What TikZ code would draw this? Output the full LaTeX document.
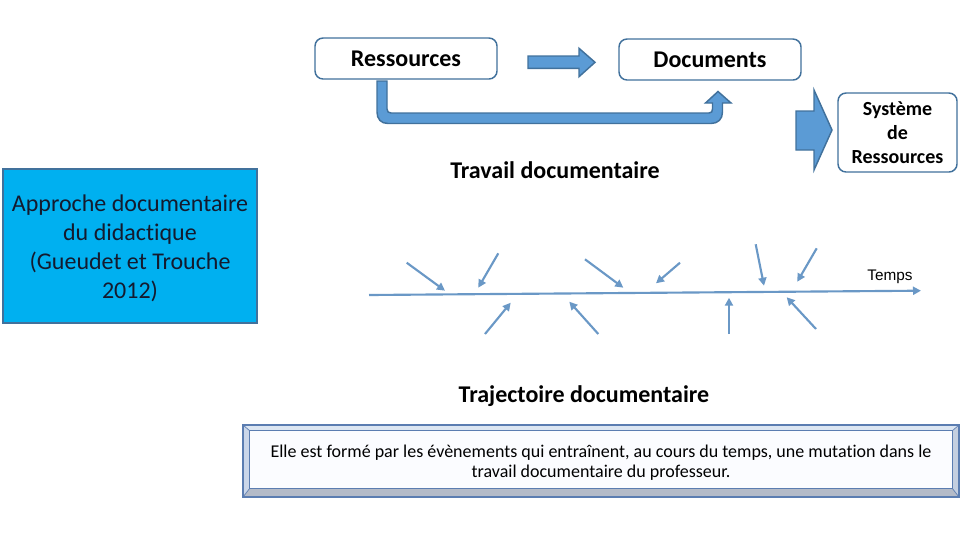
\documentclass[tikz,border=0pt]{standalone}
\usepackage{fontspec}
\setmainfont{Carlito}[Ligatures=CommonOff]
\newfontfamily\arialf{Liberation Sans}
\usetikzlibrary{arrows.meta}
\definecolor{boxline}{HTML}{41719C}
\definecolor{blockfill}{HTML}{5B9BD5}
\definecolor{cyanfill}{HTML}{00B0F0}
\definecolor{tline}{HTML}{6A98C6}
\definecolor{bevtop}{HTML}{DCE6F2}
\definecolor{bevleft}{HTML}{CAD6E9}
\definecolor{bevright}{HTML}{C4CFE0}
\definecolor{bevbot}{HTML}{B4BBC8}
\definecolor{bevface}{HTML}{FBFCFF}
\definecolor{bevline}{HTML}{5B7DB1}
\definecolor{navytext}{HTML}{141A2E}
\tikzset{
  rbox/.style={draw=boxline, line width=1.1pt, rounded corners=6pt, fill=white, inner sep=0pt},
  blockarrow/.style={draw=boxline, line width=1.1pt, fill=blockfill, line join=miter},
  evarrow/.style={draw=tline, line width=1.6pt, -{Triangle[length=6pt,width=6pt]}},
  title/.style={font=\fontsize{18}{22}\selectfont\bfseries, inner sep=0pt}
}
\begin{document}
\begin{tikzpicture}[x=0.75pt,y=-0.75pt]
\useasboundingbox (0,0) rectangle (960,540);
% top boxes
\node[rbox, minimum width=136.5pt, minimum height=30.75pt, font=\fontsize{18}{22}\selectfont\bfseries] (res) at (406,58.5) {Ressources};
\node[rbox, minimum width=136.5pt, minimum height=30.75pt, font=\fontsize{18}{22}\selectfont\bfseries] (doc) at (710,59.5) {Documents};
\node[rbox, minimum width=89.25pt, minimum height=59.25pt, align=center, font=\fontsize{15}{18}\selectfont\bfseries] (sys) at (897.5,132.5) {Système\\de\\Ressources};
% block arrow Ressources -> Documents
\draw[blockarrow] (528,56) -- (579,56) -- (579,48.3) -- (595,62.3) -- (579,76.7) -- (579,68.3) -- (528,68.3) -- cycle;
% U-shaped arrow
\draw[blockarrow] (377,81) -- (377,112) .. controls (377,119) and (381,123.5) .. (388,123.5) -- (711,123.5) .. controls (718,123.5) and (722.5,119) .. (722.5,112) -- (722.5,103) -- (731,103) -- (718,91.5) -- (705.5,103) -- (712.5,103) -- (712.5,109) .. controls (712.5,111.5) and (711.5,113) .. (709,113) -- (391,113) .. controls (388.5,113) and (387,111.5) .. (387,109) -- (387,81) -- cycle;
% block arrow to Systeme
\draw[blockarrow] (796,111) -- (814,111) -- (814,90) -- (832,130) -- (814,170) -- (814,150) -- (796,150) -- cycle;
% labels
\node[title] (trav) at (555,170) {Travail documentaire};
\node[title] (traj) at (584,396) {Trajectoire documentaire};
% left box
\node[draw=boxline, line width=1.5pt, fill=cyanfill, minimum width=190.5pt, minimum height=115.5pt, align=center, inner sep=0pt, text=navytext, font=\fontsize{18}{21.8}\selectfont] (app) at (130,245.5) {\rule{0pt}{17pt}Approche documentaire\\du didactique\\(Gueudet et Trouche\\2012)};
% timeline
\coordinate (t0) at (369,295);
\coordinate (t1) at (921,290.7);
\draw[evarrow] (t0) -- (t1);
\node[font=\arialf\fontsize{11.5}{14}\selectfont, inner sep=0pt] (temps) at (890,277) {Temps};
% event arrows above
\coordinate (a1s) at (406.7,262.7); \coordinate (a1e) at (445,290.7);
\coordinate (a2s) at (498.3,253.3); \coordinate (a2e) at (478.3,287.7);
\coordinate (a3s) at (585,259.3);   \coordinate (a3e) at (623.3,287.7);
\coordinate (a4s) at (680,262.7);   \coordinate (a4e) at (656,283.3);
\coordinate (a5s) at (755.7,244.3); \coordinate (a5e) at (764,285.7);
\coordinate (a6s) at (816.7,248.3); \coordinate (a6e) at (797.3,281.7);
% event arrows below
\coordinate (b1s) at (485,334);     \coordinate (b1e) at (510.7,302.7);
\coordinate (b2s) at (598.3,334);   \coordinate (b2e) at (569.3,301.7);
\coordinate (b3s) at (729,334);     \coordinate (b3e) at (729,297.7);
\coordinate (b4s) at (816,329);     \coordinate (b4e) at (786.7,297.3);
\foreach \n in {a1,a2,a3,a4,a5,a6,b1,b2,b3,b4}{\draw[evarrow] (\n s) -- (\n e);}
% bevel box
\fill[bevtop] (243,425) -- (959,425) -- (952,431) -- (250,431) -- cycle;
\fill[bevleft] (243,425) -- (250,431) -- (250,488) -- (243,497) -- cycle;
\fill[bevright] (959,425) -- (959,497) -- (952,488) -- (952,431) -- cycle;
\fill[bevbot] (243,497) -- (250,488) -- (952,488) -- (959,497) -- cycle;
\draw[bevline, line width=0.8pt] (243,425) rectangle (959,497);
\draw[bevline, line width=0.5pt] (243,425) -- (250,431) (959,425) -- (952,431) (243,497) -- (250,488) (959,497) -- (952,488);
\node[fill=bevface, minimum width=526.5pt, minimum height=42.75pt, inner sep=0pt, align=center, font=\fontsize{13.5}{15}\selectfont] (desc) at (601,459.5) {\rule{0pt}{14.5pt}Elle est formé par les évènements qui entraînent, au cours du temps, une mutation dans le\\travail documentaire du professeur.};
\draw[bevline, line width=0.6pt] (desc.north west) rectangle (desc.south east);
\end{tikzpicture}
\end{document}
